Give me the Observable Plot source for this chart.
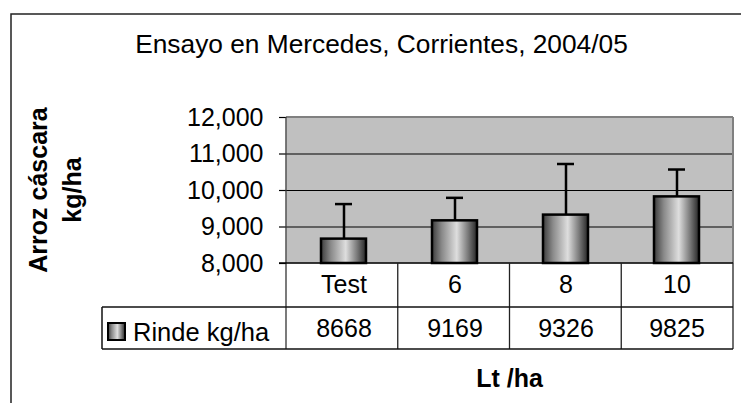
<!DOCTYPE html>
<html>
<head>
<meta charset="utf-8">
<script src="https://cdn.jsdelivr.net/npm/d3@7"></script>
<script src="https://cdn.jsdelivr.net/npm/@observablehq/plot@0.6"></script>
<style>
  html, body { margin: 0; padding: 0; background: #fff; }
  #chart { width: 741px; height: 403px; overflow: hidden; }
</style>
</head>
<body>
<div id="chart"></div>
<script>
// ---- data ----
const categories = ["Test", "6", "8", "10"];
const rinde = [8668, 9169, 9326, 9825];
const errorPlus = [960, 630, 1400, 750];
const yTicks = [8000, 9000, 10000, 11000, 12000];
const gridTicks = [9000, 10000, 11000];
const seriesName = "Rinde kg/ha";
const title = "Ensayo en Mercedes, Corrientes, 2004/05";
const yTitleLines = ["Arroz cáscara", "kg/ha"];
const xTitle = "Lt /ha";

const data = categories.map((c, i) => ({cat: c, value: rinde[i], base: 8000, top: rinde[i] + errorPlus[i]}));

const FONT = "'Liberation Sans', Arial, Helvetica, sans-serif";
const W = 741, H = 403;
const mL = 286, mR = 8, mT = 117, mB = 140;
const fmt = d3.format(",");

const chart = Plot.plot({
  width: W,
  height: H,
  marginLeft: mL,
  marginRight: mR,
  marginTop: mT,
  marginBottom: mB,
  style: {fontFamily: FONT, fontSize: "25px", color: "#000", background: "#fff", overflow: "hidden"},
  x: {domain: categories, padding: 0, axis: null},
  y: {domain: [8000, 12000], axis: null},
  marks: [
    Plot.frame({fill: "#c0c0c0", stroke: "none"}),
    Plot.ruleY(gridTicks, {stroke: "#000", strokeWidth: 1}),
    Plot.axisY({ticks: yTicks, tickFormat: fmt, tickSize: 7, tickPadding: 16, label: null, fontSize: 25, stroke: "#000", strokeWidth: 1.2}),
    Plot.ruleX(data, {x: "cat", y1: "value", y2: "top", stroke: "#000", strokeWidth: 2.5}),
    Plot.tickY(data, {x: "cat", y: "top", stroke: "#000", strokeWidth: 2.5, insetLeft: 47, insetRight: 47}),
    Plot.barY(data, {x: "cat", y1: "base", y2: "value", fill: "#999", stroke: "#000", strokeWidth: 2.5, insetLeft: 33, insetRight: 33}),
    // data table: category row and value row
    Plot.text(data, {x: "cat", text: "cat", frameAnchor: "bottom", dy: 21, lineAnchor: "middle", fontSize: 25, fill: "#000"}),
    Plot.text(data, {x: "cat", text: d => String(d.value), frameAnchor: "bottom", dy: 65, lineAnchor: "middle", fontSize: 25, fill: "#000"})
  ]
});

document.getElementById("chart").appendChild(chart);

const svg = d3.select(chart.tagName.toLowerCase() === "svg" ? chart : chart.querySelector("svg"));

// gradient definition
const defs = svg.insert("defs", ":first-child");
const grad = defs.append("linearGradient").attr("id", "barGrad").attr("x1", "0").attr("x2", "1").attr("y1", "0").attr("y2", "0");
[[0, "#3c3c3c"], [0.22, "#8a8a8a"], [0.55, "#dedede"], [0.8, "#7a7a7a"], [1, "#262626"]].forEach(([o, c]) =>
  grad.append("stop").attr("offset", o).attr("stop-color", c));
svg.selectAll('g[aria-label="bar"]').attr("fill", "url(#barGrad)");
svg.selectAll('g[aria-label="bar"] rect').attr("fill", "url(#barGrad)");

// scale geometry
const xs = chart.scale("x");
const ys = chart.scale("y");
const [r0, r1] = xs.range;
const n = categories.length;
const step = (r1 - r0) / n;
const yBottom = ys.apply ? ys.apply(8000) : H - mB;
const yTop = ys.apply ? ys.apply(12000) : mT;
const row1 = yBottom + 44;
const row2 = yBottom + 86;
const legendLeft = 102;

const deco = svg.append("g").attr("fill", "none");

// plot area top and right border (grey)
deco.append("line").attr("x1", r0).attr("x2", r1).attr("y1", yTop).attr("y2", yTop).attr("stroke", "#808080").attr("stroke-width", 2);
deco.append("line").attr("x1", r1).attr("x2", r1).attr("y1", yTop).attr("y2", yBottom).attr("stroke", "#808080").attr("stroke-width", 2);
// left axis line through table
deco.append("line").attr("x1", r0).attr("x2", r0).attr("y1", yTop).attr("y2", row2).attr("stroke", "#333").attr("stroke-width", 1.3);
// bottom axis
deco.append("line").attr("x1", r0 - 7).attr("x2", r1).attr("y1", yBottom).attr("y2", yBottom).attr("stroke", "#000").attr("stroke-width", 1.5);
// table column separators
for (let i = 1; i <= n; i++) {
  const xx = r0 + i * step;
  deco.append("line").attr("x1", xx).attr("x2", xx).attr("y1", yBottom).attr("y2", row2).attr("stroke", "#222").attr("stroke-width", 1.3);
}
// table horizontal lines
[row1, row2].forEach(yy => deco.append("line").attr("x1", legendLeft).attr("x2", r1).attr("y1", yy).attr("y2", yy).attr("stroke", "#111").attr("stroke-width", 1.5));
deco.append("line").attr("x1", legendLeft).attr("x2", legendLeft).attr("y1", row1).attr("y2", row2).attr("stroke", "#111").attr("stroke-width", 1.5);

// legend key + name
svg.append("rect").attr("x", 108).attr("y", 323).attr("width", 17).attr("height", 17)
  .attr("fill", "url(#barGrad)").attr("stroke", "#000").attr("stroke-width", 2);
svg.append("text").attr("x", 133).attr("y", 341).attr("text-anchor", "start").attr("font-family", FONT).attr("font-size", 25.5).attr("fill", "#000").text(seriesName);

// outer chart frame (extends beyond the picture on right and bottom)
svg.append("rect").attr("x", 11).attr("y", 14).attr("width", 900).attr("height", 600)
  .attr("fill", "none").attr("stroke", "#222").attr("stroke-width", 1.5);

// title
svg.append("text").attr("x", (r0 + r1) / 2 - 128).attr("y", 53).attr("text-anchor", "middle")
  .attr("font-family", FONT).attr("font-size", 26.3).attr("fill", "#000").text(title);

// y title (two lines, rotated)
const yt = svg.append("text").attr("transform", `translate(0, ${(yTop + yBottom) / 2}) rotate(-90)`)
  .attr("text-anchor", "middle").attr("font-family", FONT).attr("font-size", 25).attr("font-weight", "bold").attr("fill", "#000");
yTitleLines.forEach((t, i) => yt.append("tspan").attr("x", 0).attr("y", 47 + i * 34).text(t));

// x title
svg.append("text").attr("x", (r0 + r1) / 2).attr("y", 387).attr("text-anchor", "middle")
  .attr("font-family", FONT).attr("font-size", 25).attr("font-weight", "bold").attr("fill", "#000").text(xTitle);
</script>
</body>
</html>
